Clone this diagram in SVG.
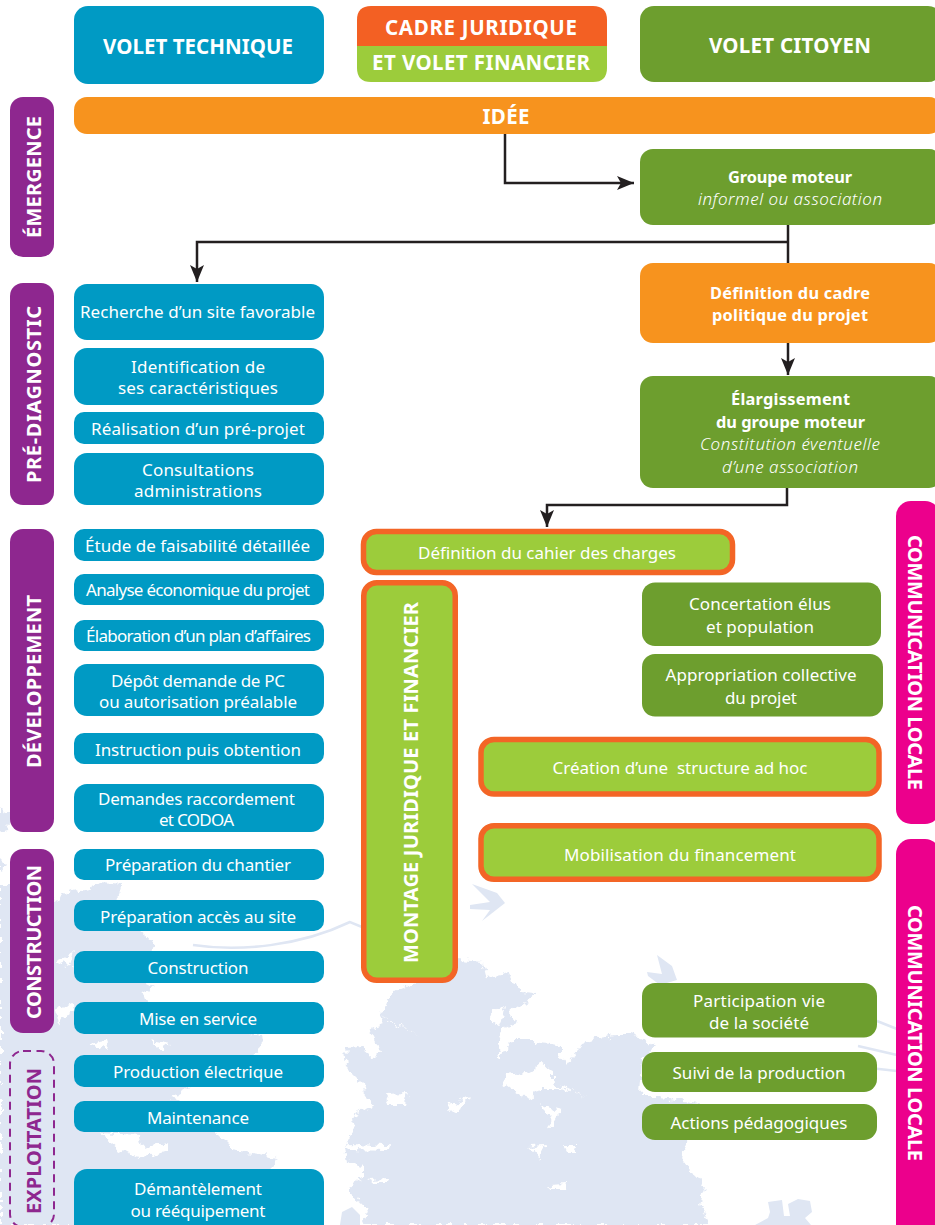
<svg xmlns="http://www.w3.org/2000/svg" width="935" height="1225" viewBox="0 0 935 1225">
<style>
text{font-family:"Noto Sans","Open Sans","Liberation Sans",sans-serif;fill:#fff;text-anchor:middle}
.t{font-size:17px}
.h{font-size:20.5px;font-weight:700}
.v{font-size:20px;font-weight:700}
.b{font-size:16.4px;font-weight:700}
.i{font-size:17px;font-style:italic;font-weight:300}
.blue{fill:#009ac4}.green{fill:#6d9e2e}.lime{fill:#9ccc3b}.orange{fill:#f7931e}.purple{fill:#8e278f}.pink{fill:#ec008c}.red{fill:#f36023}
.lb{fill:#9ccc3b;stroke:#f36526;stroke-width:5.5}
.bg{fill:#dfe6f3}.hole{fill:#fff}
.sw{fill:none;stroke:#dfe6f3;stroke-width:2.5}
.c{fill:none;stroke:#231f20;stroke-width:2.5}
</style>
<defs>
<marker id="a" markerUnits="userSpaceOnUse" markerWidth="20" markerHeight="18" refX="17" refY="7" orient="auto"><path d="M0 0L17 7L0 14L4 7Z" fill="#231f20"/></marker>
<filter id="rough" filterUnits="userSpaceOnUse" x="0" y="780" width="935" height="445" color-interpolation-filters="sRGB"><feTurbulence type="fractalNoise" baseFrequency="0.13" numOctaves="3" seed="4"/><feDisplacementMap in="SourceGraphic" scale="11" xChannelSelector="R" yChannelSelector="G"/></filter>
</defs>
<g id="background">
<g filter="url(#rough)">
<path class="bg" d="M0 808L10 812L8 830L0 832Z"/>
<path class="bg" d="M0 858L8 866L0 872ZM0 885L30 885L54 900L72 892L90 888L100 882L122 884L118 900L140 932L157 945L150 955L120 970L155 987L140 995L152 1003L130 1010L262 1036L263 1042L250 1060L183 1090L170 1098L185 1102L215 1132L233 1150L277 1157L270 1172L300 1225L0 1225Z"/>
<path class="hole" d="M100 1133L140 1135L143 1147L167 1142L168 1150L140 1160L118 1148Z"/>
<path class="hole" d="M55 1010L72 1002L76 1010L58 1022ZM88 1043L105 1040L108 1050ZM150 1040L170 1044L162 1050ZM55 960L75 952L70 968Z"/>
<path class="bg" d="M363 1225L368 1207L350 1195L350 1187L363 1177L363 1167L347 1163L345 1147L353 1132L352 1117L363 1110L375 1107L365 1093L363 1083L347 1067L345 1048L360 1047L373 1057L380 1050L370 1030L383 1025L378 1013L390 1007L387 997L402 988L440 975L458 960L483 962L487 978L510 973L520 992L537 993L517 1007L510 1013L518 1023L503 1030L497 1050L500 1057L513 1040L530 1040L540 1043L560 1045L560 1057L567 1065L580 1047L583 1042L597 1038L617 1035L630 1035L657 1045L642 1060L640 1097L660 1097L698 1102L690 1140L680 1157L690 1170L697 1175L705 1187L700 1203L710 1225Z"/>
<path class="hole" d="M505 1075L527 1073L540 1063L553 1073L553 1083L585 1097L560 1088L540 1088L530 1100L523 1097L503 1082Z"/>
<path class="hole" d="M385 1095L408 1094L405 1105L390 1105ZM345 1145L390 1146L388 1151L350 1150ZM370 1179L387 1178L386 1183L372 1183ZM550 1185L566 1184L565 1188L551 1188ZM563 1146L578 1146L576 1152L566 1152ZM528 1146L547 1145L540 1158L535 1150ZM540 1105L562 1110L552 1128L548 1113ZM378 1013L420 1037L395 1024ZM490 1015L505 1005L500 1028L492 1022ZM450 1105L470 1096L462 1108L448 1112Z"/>
</g>
<path class="bg" d="M340 1225L342 1212L352 1207L360 1215L360 1225Z"/>
<path class="bg" d="M470 905L490 902L472 884L497 893L505 903L482 921L490 910L470 909Z"/>
<path class="bg" d="M647 972L662 974L657 955L672 966L677 980L660 985L648 976Z"/>
<path class="bg" d="M755 1225L768 1218L770 1212L768 1202L782 1200L784 1216L790 1216L788 1204L798 1199L810 1201L812 1212L805 1218L811 1225Z"/>
<path class="sw" d="M193 945C240 952 300 946 350 922L362 927"/>
<path class="sw" d="M877 1021L897 1029M858 1046L897 1055M870 1068L897 1071"/>
</g>
<g id="connectors">
<path class="c" d="M505 134V183H634" marker-end="url(#a)"/>
<path class="c" d="M788 225V263"/>
<path class="c" d="M788 242H197V282" marker-end="url(#a)"/>
<path class="c" d="M788 343V375" marker-end="url(#a)"/>
<path class="c" d="M787 488V505H547V527" marker-end="url(#a)"/>
</g>
<g id="hdr-technique"><rect class="blue" x="74" y="6" width="250" height="78" rx="14"/><text class="h" x="198" y="54" textLength="190">VOLET TECHNIQUE</text></g>
<g id="hdr-cadre"><path class="red" d="M371 6H593Q607 6 607 20V46H357V20Q357 6 371 6Z"/><path class="lime" d="M357 46H607V68Q607 82 593 82H371Q357 82 357 68Z"/><text class="h" x="481" y="35" textLength="192">CADRE JURIDIQUE</text><text class="h" x="481" y="70" textLength="218">ET VOLET FINANCIER</text></g>
<g id="hdr-citoyen"><rect class="green" x="640" y="6" width="302" height="76" rx="14"/><text class="h" x="790" y="53" textLength="162">VOLET CITOYEN</text></g>
<g id="idee"><rect class="orange" x="74" y="97" width="868" height="37" rx="13"/><text class="h" x="506" y="124" textLength="47">IDÉE</text></g>

<g id="ph-emergence"><rect class="purple" x="10" y="97" width="44" height="160" rx="13"/><text class="v" transform="translate(41 177) rotate(-90)" textLength="122">ÉMERGENCE</text></g>
<g id="ph-prediag"><rect class="purple" x="10" y="283" width="44" height="222" rx="13"/><text class="v" transform="translate(41 394.500) rotate(-90)" textLength="177">PRÉ-DIAGNOSTIC</text></g>
<g id="ph-dev"><rect class="purple" x="10" y="529" width="44" height="303" rx="13"/><text class="v" transform="translate(41 681.500) rotate(-90)" textLength="173">DÉVELOPPEMENT</text></g>
<g id="ph-constr"><rect class="purple" x="10" y="849" width="44" height="184" rx="13"/><text class="v" transform="translate(41 942) rotate(-90)" textLength="154">CONSTRUCTION</text></g>
<g id="ph-expl"><rect x="10" y="1051" width="44" height="176" rx="13" fill="none" stroke="#8e278f" stroke-width="2" stroke-dasharray="8 5.500"/><text class="v" style="fill:#8e278f" transform="translate(41 1141) rotate(-90)" textLength="146">EXPLOITATION</text></g>

<g id="n1"><rect class="blue" x="74" y="284" width="250" height="56" rx="13"/><text class="t" x="197.500" y="318" textLength="235">Recherche d’un site favorable</text></g>
<g id="n2"><rect class="blue" x="74" y="348" width="250" height="57" rx="13"/><text class="t" x="198" y="373" textLength="134">Identification de</text><text class="t" x="198" y="394" textLength="160">ses caractéristiques</text></g>
<g id="n3"><rect class="blue" x="74" y="412" width="250" height="32" rx="10"/><text class="t" x="198" y="435" textLength="214">Réalisation d’un pré-projet</text></g>
<g id="n4"><rect class="blue" x="74" y="453" width="250" height="52" rx="13"/><text class="t" x="198" y="476" textLength="112">Consultations</text><text class="t" x="198" y="497" textLength="128">administrations</text></g>
<g id="n5"><rect class="blue" x="74" y="529" width="250" height="32" rx="10"/><text class="t" x="197.500" y="552" textLength="225">Étude de faisabilité détaillée</text></g>
<g id="n6"><rect class="blue" x="74" y="574" width="250" height="31" rx="10"/><text class="t" x="198" y="596" textLength="224">Analyse économique du projet</text></g>
<g id="n7"><rect class="blue" x="74" y="620" width="250" height="31" rx="10"/><text class="t" x="198.500" y="642" textLength="225">Élaboration d’un plan d’affaires</text></g>
<g id="n8"><rect class="blue" x="74" y="664" width="250" height="52" rx="13"/><text class="t" x="198" y="687" textLength="174">Dépôt demande de PC</text><text class="t" x="198" y="708" textLength="198">ou autorisation préalable</text></g>
<g id="n9"><rect class="blue" x="74" y="733" width="250" height="31" rx="10"/><text class="t" x="198" y="756" textLength="206">Instruction puis obtention</text></g>
<g id="n10"><rect class="blue" x="74" y="784" width="250" height="48" rx="13"/><text class="t" x="196.500" y="805" textLength="197">Demandes raccordement</text><text class="t" x="196.500" y="826" textLength="75">et CODOA</text></g>
<g id="n11"><rect class="blue" x="74" y="849" width="250" height="31" rx="10"/><text class="t" x="198" y="871" textLength="186">Préparation du chantier</text></g>
<g id="n12"><rect class="blue" x="74" y="900" width="250" height="31" rx="10"/><text class="t" x="198" y="923" textLength="196">Préparation accès au site</text></g>
<g id="n13"><rect class="blue" x="74" y="951" width="250" height="32" rx="10"/><text class="t" x="198" y="974" textLength="101">Construction</text></g>
<g id="n14"><rect class="blue" x="74" y="1002" width="250" height="32" rx="10"/><text class="t" x="198" y="1025" textLength="118">Mise en service</text></g>
<g id="n15"><rect class="blue" x="74" y="1055" width="250" height="32" rx="10"/><text class="t" x="198" y="1078" textLength="170">Production électrique</text></g>
<g id="n16"><rect class="blue" x="74" y="1101" width="250" height="31" rx="10"/><text class="t" x="198" y="1124" textLength="102">Maintenance</text></g>
<g id="n17"><rect class="blue" x="74" y="1169" width="250" height="70" rx="13"/><text class="t" x="198" y="1195" textLength="128">Démantèlement</text><text class="t" x="198" y="1217" textLength="135">ou rééquipement</text></g>

<g id="g1"><rect class="green" x="640" y="149" width="302" height="76" rx="13"/><text class="b" x="790" y="183" textLength="124">Groupe moteur</text><text class="i" x="790" y="205" textLength="184">informel ou association</text></g>
<g id="g2"><rect class="orange" x="640" y="263" width="302" height="80" rx="13"/><text class="b" x="790" y="299" textLength="160">Définition du cadre</text><text class="b" x="790" y="321" textLength="156">politique du projet</text></g>
<g id="g3"><rect class="green" x="640" y="376" width="302" height="112" rx="13"/><text class="b" x="790.500" y="405" textLength="119">Élargissement</text><text class="b" x="790.500" y="428" textLength="149">du groupe moteur</text><text class="i" x="790" y="450" textLength="180">Constitution éventuelle</text><text class="i" x="790" y="473" textLength="136">d’une association</text></g>
<g id="g4"><rect class="green" x="642" y="582.500" width="239" height="63.500" rx="13"/><text class="t" x="760" y="610" textLength="142">Concertation élus</text><text class="t" x="760" y="633" textLength="108">et population</text></g>
<g id="g5"><rect class="green" x="642" y="654" width="241" height="62.500" rx="13"/><text class="t" x="761" y="681" textLength="191">Appropriation collective</text><text class="t" x="761" y="704" textLength="72">du projet</text></g>
<g id="g6"><rect class="green" x="642" y="983" width="235" height="54.500" rx="13"/><text class="t" x="759" y="1007" textLength="132">Participation vie</text><text class="t" x="759" y="1029" textLength="100">de la société</text></g>
<g id="g7"><rect class="green" x="642" y="1052" width="235" height="40" rx="13"/><text class="t" x="759" y="1079" textLength="173">Suivi de la production</text></g>
<g id="g8"><rect class="green" x="642" y="1104" width="235" height="36" rx="13"/><text class="t" x="759" y="1129" textLength="177">Actions pédagogiques</text></g>

<g id="l1"><rect class="lb" x="363.500" y="531.500" width="369" height="41" rx="13"/><text class="t" x="547" y="559" textLength="258">Définition du cahier des charges</text></g>
<g id="l2"><rect class="lb" x="363.750" y="582.750" width="91.500" height="397.500" rx="13"/><text class="v" transform="translate(418 782.500) rotate(-90)" textLength="361">MONTAGE JURIDIQUE ET FINANCIER</text></g>
<g id="l3"><rect class="lb" x="481" y="739.500" width="398" height="54.500" rx="13"/><text class="t" x="680" y="774" textLength="255" xml:space="preserve">Création d’une  structure ad hoc</text></g>
<g id="l4"><rect class="lb" x="481" y="825.750" width="398" height="53.500" rx="13"/><text class="t" x="680" y="861" textLength="232">Mobilisation du financement</text></g>

<g id="c1"><rect class="pink" x="896" y="501" width="44" height="323" rx="15"/><text class="v" transform="translate(908 662.500) rotate(90)" textLength="255">COMMUNICATION LOCALE</text></g>
<g id="c2"><rect class="pink" x="896" y="839" width="44" height="400" rx="15"/><text class="v" transform="translate(908 1033) rotate(90)" textLength="256">COMMUNICATION LOCALE</text></g>
</svg>
